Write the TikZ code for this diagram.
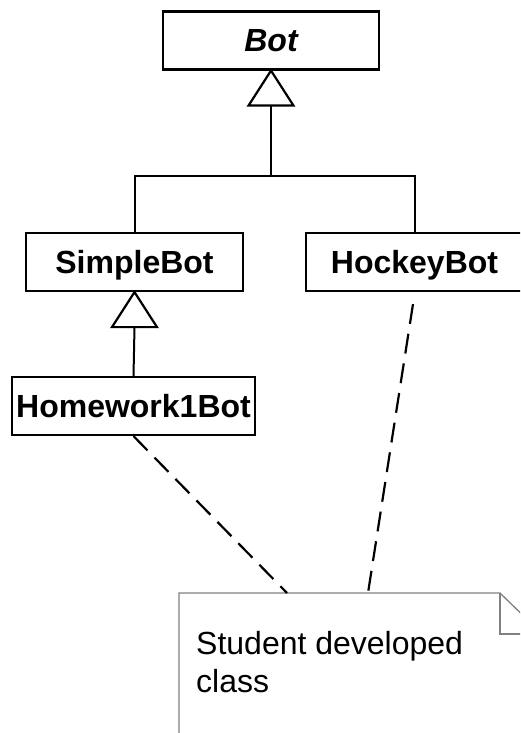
\documentclass[tikz,border=0pt]{standalone}
\usepackage{fontspec}
\setmainfont{Liberation Sans}
\usetikzlibrary{calc}
\tikzset{
  classbox/.style={draw, line width=2.2pt, inner sep=0pt, minimum height=58pt,
    font=\fontsize{32}{38}\selectfont\bfseries, text height=22.9pt, text depth=0pt},
  genline/.style={line width=2pt},
  gentri/.style={line width=2.2pt, fill=white, line join=miter},
  anchorline/.style={line width=2.2pt, dash pattern=on 20pt off 10pt},
  noteline/.style={draw=black!50, line width=1.3pt}
}
\begin{document}
\begin{tikzpicture}[x=1pt,y=-1pt]
\useasboundingbox (0,0) rectangle (520,733);
\clip (0,0) rectangle (520,733);
\fill[white] (0,0) rectangle (520,733);

\node[classbox, minimum width=216pt] (Bot) at (271,40.5) {\itshape Bot};
\node[classbox, minimum width=217pt] (SimpleBot) at (134.5,262) {SimpleBot};
\node[classbox, minimum width=217pt] (HockeyBot) at (414.5,262) {HockeyBot};
\node[classbox, minimum width=243pt] (HW) at (133.5,406) {Homework1Bot};

% generalization Bot
\draw[gentri] (Bot.south) -- ++(-22.5,35) -- ++(45,0) -- cycle;
\coordinate (t1) at ($(Bot.south)+(0,35)$);
\draw[genline] (SimpleBot.north) |- (t1 |- 0,176) -- (t1);
\draw[genline] (HockeyBot.north) |- (t1 |- 0,176);

% generalization SimpleBot
\draw[gentri] (SimpleBot.south) -- ++(-22.5,35) -- ++(45,0) -- cycle;
\coordinate (t2) at ($(SimpleBot.south)+(0,35)$);
\draw[genline] (HW.north) -- (t2);

% note
\node[anchor=north west, inner sep=0pt, minimum width=363pt, minimum height=200pt] (note) at (179,593) {};
\draw[noteline] (note.south west) -- (note.north west) -- ($(note.north west)+(321,0)$) coordinate (fold)
  -- ($(note.north west)+(363,41)$) -- (note.south east);
\draw[noteline] (fold) -- ++(0,41) -- ++(42,0);
\node[anchor=north west, inner sep=0pt, align=left, font=\fontsize{32}{38}\selectfont] (notetext) at (196,630.8) {Student developed\\class};

\coordinate (n1) at ($(note.north west)+(108,0)$);
\coordinate (n2) at ($(note.north west)+(189,0)$);
\draw[anchorline] (HW.south) -- (n1);
\draw[anchorline] ($(HockeyBot.south)+(-1.5,12)$) -- (n2);
\end{tikzpicture}
\end{document}
